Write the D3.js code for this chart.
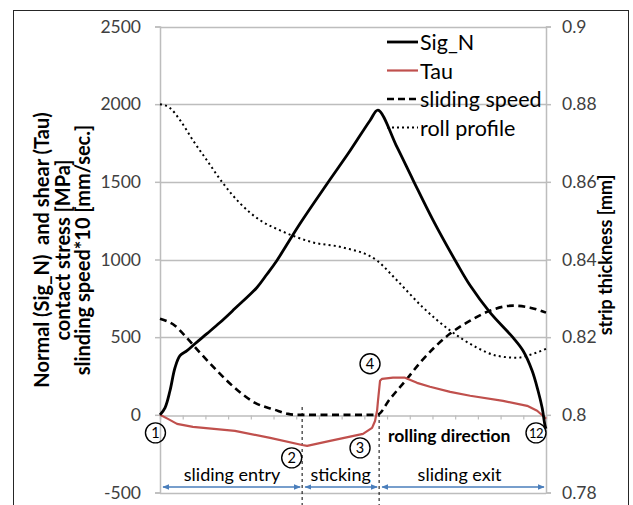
<!DOCTYPE html>
<html>
<head>
<meta charset="utf-8">
<script src="https://cdn.jsdelivr.net/npm/d3@7/dist/d3.min.js"></script>
<style>
  html, body { margin: 0; padding: 0; background: #fff; }
  svg { display: block; font-family: Lato, "Open Sans", sans-serif; }
</style>
</head>
<body>
<svg id="chart" width="633" height="505"></svg>
<script>
// Position along the roll gap (node index 0..17)
const xDomain = [0, 17];

// Normal contact stress Sig_N [MPa]
const sigX = [0, 0.22, 0.44, 0.66, 0.88, 1.19, 1.54, 2.07, 2.64, 3.30, 4.27, 4.71, 5.15, 6.17, 7.36, 8.37, 9.25, 9.60,
              10.44, 11.15, 12.03, 13.08, 13.66, 14.54, 15.55, 15.99, 16.39, 16.65, 16.83, 16.96, 17.0];
const sigN = [0, 45, 155, 303, 381, 413, 458, 523, 594, 684, 820, 905, 994, 1232, 1488, 1700, 1895, 1962,
              1723, 1510, 1252, 974, 832, 658, 497, 413, 284, 155, 45, -71, -90];

// Shear contact stress Tau [MPa]
const tauX = [0, 0.35, 0.75, 1.45, 3.30, 4.85, 6.26, 6.48, 7.49, 8.94, 9.34, 9.47, 9.56, 9.60, 9.69, 9.78,
              10.26, 10.79, 11.32, 11.89, 12.78, 13.66, 15.11, 16.17, 16.61, 16.96, 17.0];
const tauV = [0, -26, -58, -77, -103, -148, -194, -200, -168, -123, -84, -40, 26, 90, 219, 232,
              239, 239, 206, 181, 148, 123, 90, 58, 26, -19, -25];

// Sliding speed * 10 [mm/sec.]
const speedX = [0, 0.44, 0.66, 1.01, 1.76, 2.51, 3.44, 4.19, 5.07, 5.64, 6.08, 9.56, 10.13, 10.88, 11.45,
                12.78, 13.66, 14.54, 15.55, 16.30, 17.0];
const speedV = [619, 594, 574, 523, 400, 284, 155, 77, 32, 6, 0, 0, 103, 232, 335,
                523, 606, 671, 703, 690, 658];

// Roll profile as strip thickness [mm] (right axis)
const rollX = [0, 0.44, 0.88, 1.45, 2.07, 2.78, 3.52, 4.41, 5.29, 6.04, 6.74, 8.06, 9.56, 10.44, 11.59,
               12.78, 13.96, 14.85, 15.73, 16.43, 17.0];
const rollV = [0.88, 0.879, 0.8759, 0.8707, 0.8655, 0.8596, 0.8545, 0.8501, 0.8475, 0.8457, 0.8444, 0.8431,
               0.8397, 0.8346, 0.8276, 0.8217, 0.8173, 0.8152, 0.8147, 0.8157, 0.817];

// Axis ticks
const leftTicks = [-500, 0, 500, 1000, 1500, 2000, 2500];
const rightTicks = [0.78, 0.8, 0.82, 0.84, 0.86, 0.88, 0.9];
const xTicks = d3.range(0, 18);

// Zones of the contact arc and their labels
const zoneBounds = [0, 6.26, 9.65, 17];
const zoneNames = ["sliding entry", "sticking", "sliding exit"];

// Numbered points along the arc
const markerIds = ["1", "2", "3", "4", "12"];
const markerX = [-0.2, 5.8, 8.81, 9.25, 16.56];
const markerY = [-116, -277, -213, 329, -116];

const legendNames = ["Sig_N", "Tau", "sliding speed", "roll profile"];

const svg = d3.select("#chart");

const x = d3.scaleLinear().domain(xDomain).range([160, 546]);
const yL = d3.scaleLinear().domain([-500, 2500]).range([492.5, 26.5]);
const yR = d3.scaleLinear().domain([0.78, 0.9]).range([492.5, 26.5]);

const gridColor = "#bdbdbd";
const textColor = "#404040";

// outer frame
svg.append("rect").attr("x", 13.5).attr("y", 10.5).attr("width", 615).attr("height", 510)
  .attr("fill", "none").attr("stroke", "#262626").attr("stroke-width", 1);

// horizontal gridlines
svg.append("g").selectAll("line").data(leftTicks.filter(d => d !== 0)).join("line")
  .attr("x1", x(0)).attr("x2", x(17))
  .attr("y1", d => Math.round(yL(d)) + 0.5).attr("y2", d => Math.round(yL(d)) + 0.5)
  .attr("stroke", gridColor).attr("stroke-width", 1.5);

// left axis
const leftAxis = d3.axisLeft(yL).tickValues(leftTicks).tickSize(5).tickPadding(14).tickFormat(d3.format("d"));
const gL = svg.append("g").attr("transform", `translate(${x(0)},0)`).call(leftAxis);
gL.select(".domain").attr("stroke", gridColor).attr("stroke-width", 1.5);
gL.selectAll(".tick line").attr("stroke", gridColor).attr("stroke-width", 1.5);
gL.selectAll(".tick text").attr("font-size", 17.5).attr("fill", textColor)
  .attr("font-family", "Lato, sans-serif").text(d => d < 0 ? "-" + Math.abs(d) : d);

// right axis
const rightAxis = d3.axisRight(yR).tickValues(rightTicks).tickSize(5).tickPadding(11)
  .tickFormat(d => d3.format("")(+d.toFixed(2)));
const gR = svg.append("g").attr("transform", `translate(${x(17)},0)`).call(rightAxis);
gR.select(".domain").attr("stroke", gridColor).attr("stroke-width", 1.5);
gR.selectAll(".tick line").attr("stroke", gridColor).attr("stroke-width", 1.5);
gR.selectAll(".tick text").attr("font-size", 17.5).attr("fill", textColor).attr("font-family", "Lato, sans-serif");

// horizontal axis at zero with small tick marks
const bottomAxis = d3.axisBottom(x).tickValues(xTicks).tickSize(4).tickFormat("");
const gB = svg.append("g").attr("transform", `translate(0,${Math.round(yL(0)) + 0.5})`).call(bottomAxis);
gB.select(".domain").attr("stroke", gridColor).attr("stroke-width", 1.5);
gB.selectAll(".tick line").attr("stroke", gridColor).attr("stroke-width", 1.2);

// axis titles
const leftTitle = ["Normal (Sig_N)  and shear (Tau)", "contact stress [MPa]", "slinding speed*10 [mm/sec.]"];
svg.append("g").selectAll("text").data(leftTitle).join("text")
  .attr("transform", (d, i) => `translate(${41 + i * 20.5},250) rotate(-90)`)
  .attr("text-anchor", "middle").attr("dominant-baseline", "central")
  .attr("font-size", 20).attr("font-weight", "bold").attr("fill", "#000")
  .style("white-space", "pre")
  .text(d => d);

svg.append("text")
  .attr("transform", "translate(605,255) rotate(-90)")
  .attr("text-anchor", "middle").attr("dominant-baseline", "central")
  .attr("font-size", 18).attr("font-weight", "bold").attr("fill", "#000")
  .text("strip thickness [mm]");

// zone boundary lines
svg.append("g").selectAll("line").data(zoneBounds.slice(1, 3)).join("line")
  .attr("x1", d => x(d)).attr("x2", d => x(d))
  .attr("y1", (d, i) => i === 0 ? 407 : 414).attr("y2", 505)
  .attr("stroke", "#000").attr("stroke-width", 1).attr("stroke-dasharray", "3,3");

// series
const pts = (xs, ys) => xs.map((v, i) => [v, ys[i]]);

svg.append("path").datum(pts(rollX, rollV))
  .attr("d", d3.line().x(d => x(d[0])).y(d => yR(d[1])).curve(d3.curveMonotoneX))
  .attr("fill", "none").attr("stroke", "#000").attr("stroke-width", 2)
  .attr("stroke-dasharray", "2,3.2");

svg.append("path").datum(pts(speedX, speedV))
  .attr("d", d3.line().x(d => x(d[0])).y(d => yL(d[1])).curve(d3.curveMonotoneX))
  .attr("fill", "none").attr("stroke", "#000").attr("stroke-width", 2.6)
  .attr("stroke-dasharray", "7,4.5");

svg.append("path").datum(pts(tauX, tauV))
  .attr("d", d3.line().x(d => x(d[0])).y(d => yL(d[1])))
  .attr("fill", "none").attr("stroke", "#c0504d").attr("stroke-width", 2.2)
  .attr("stroke-linejoin", "round");

svg.append("path").datum(pts(sigX, sigN))
  .attr("d", d3.line().x(d => x(d[0])).y(d => yL(d[1])).curve(d3.curveCatmullRom.alpha(0.5)))
  .attr("fill", "none").attr("stroke", "#000").attr("stroke-width", 2.8)
  .attr("stroke-linejoin", "round");

// legend
const legendStyles = [
  { stroke: "#000", width: 2.8, dash: null },
  { stroke: "#c0504d", width: 2.2, dash: null },
  { stroke: "#000", width: 2.6, dash: "7,4" },
  { stroke: "#000", width: 2, dash: "2,3" }
];
const lg = svg.append("g").selectAll("g").data(legendNames).join("g")
  .attr("transform", (d, i) => `translate(387,${42 + i * 28.5})`);
lg.append("line").attr("x1", 0).attr("x2", 31).attr("y1", 0).attr("y2", 0)
  .attr("stroke", (d, i) => legendStyles[i].stroke)
  .attr("stroke-width", (d, i) => legendStyles[i].width)
  .attr("stroke-dasharray", (d, i) => legendStyles[i].dash);
lg.append("text").attr("x", 33).attr("y", 0).attr("dominant-baseline", "central")
  .attr("font-size", 21.5).attr("fill", "#000").text(d => d);

// zone arrows
const defs = svg.append("defs");
defs.append("marker").attr("id", "arrowEnd").attr("viewBox", "0 0 10 10")
  .attr("refX", 9).attr("refY", 5).attr("markerWidth", 7).attr("markerHeight", 7)
  .attr("markerUnits", "userSpaceOnUse").attr("orient", "auto-start-reverse")
  .append("path").attr("d", "M0,1 L10,5 L0,9 Z").attr("fill", "#4a7ebb");

svg.append("g").selectAll("line").data(zoneNames).join("line")
  .attr("x1", (d, i) => x(zoneBounds[i]) + 3).attr("x2", (d, i) => x(zoneBounds[i + 1]) - 2)
  .attr("y1", 487).attr("y2", 487)
  .attr("stroke", "#4a7ebb").attr("stroke-width", 1.3)
  .attr("marker-start", "url(#arrowEnd)").attr("marker-end", "url(#arrowEnd)");

svg.append("g").selectAll("text").data(zoneNames).join("text")
  .attr("x", (d, i) => (x(zoneBounds[i]) + x(zoneBounds[i + 1])) / 2 + [1, 0, -3][i])
  .attr("y", 481).attr("text-anchor", "middle")
  .attr("font-size", 18).attr("fill", "#000").text(d => d);

svg.append("text").attr("x", 388).attr("y", 442)
  .attr("font-size", 17.5).attr("font-weight", "bold").attr("fill", "#000")
  .text("rolling direction");

// numbered circles
const mk = svg.append("g").selectAll("g").data(markerIds).join("g")
  .attr("transform", (d, i) => `translate(${x(markerX[i])},${yL(markerY[i])})`);
mk.append("circle").attr("r", 10).attr("fill", "none").attr("stroke", "#000").attr("stroke-width", 1.4);
mk.append("text").attr("text-anchor", "middle").attr("dominant-baseline", "central")
  .attr("font-size", d => d.length > 1 ? 13 : 14.5).attr("fill", "#000")
  .attr("letter-spacing", d => d.length > 1 ? -0.5 : 0)
  .text(d => d);
</script>
</body>
</html>
